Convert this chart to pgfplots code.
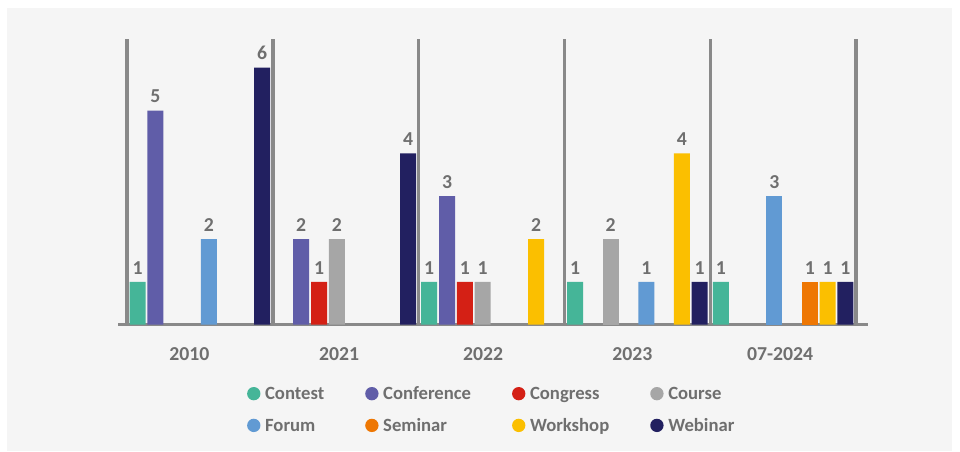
\documentclass[border=0pt]{standalone}
\usepackage{fontspec}
\setmainfont{Carlito}
\usepackage{pgfplots}
\pgfplotsset{compat=1.18}
\definecolor{bg}{HTML}{F5F5F5}
\definecolor{linegray}{HTML}{898989}
\definecolor{txtgray}{HTML}{6F6F6F}
\definecolor{cContest}{HTML}{45B598}
\definecolor{cConference}{HTML}{605DA8}
\definecolor{cCongress}{HTML}{D42015}
\definecolor{cCourse}{HTML}{A6A6A6}
\definecolor{cForum}{HTML}{619AD3}
\definecolor{cSeminar}{HTML}{EE7703}
\definecolor{cWorkshop}{HTML}{FBBF00}
\definecolor{cWebinar}{HTML}{222060}
\begin{document}
\begin{tikzpicture}
\fill[white] (0pt,0pt) rectangle (720pt,338.25pt);
\useasboundingbox (0pt,0pt) rectangle (720pt,338.25pt);
\fill[bg] (5.25pt,0pt) rectangle (714pt,332.25pt);
\begin{axis}[
  at={(88.5pt,94.7pt)}, anchor=south west,
  scale only axis, width=562.5pt, height=214.3pt,
  xmin=-0.562, xmax=4.582, ymin=0, ymax=6.67,
  enlargelimits=false, clip=false,
  ybar, bar width=12pt,
  axis y line=none,
  axis x line*=bottom,
  x axis line style={-, draw=linegray, line width=2.25pt},
  xtick={-0.072,0.955,1.942,2.966,3.979},
  xticklabels={2010,2021,2022,2023,07-2024},
  minor xtick={-0.5,0.5,1.5,2.5,3.5,4.5},
  xminorgrids=true,
  minor grid style={draw=linegray, line width=2.5pt},
  major tick length=0pt, minor tick length=0pt,
  xticklabel style={anchor=north, inner sep=0pt, yshift=-17pt, text=txtgray, font=\bfseries\fontsize{14.8pt}{17pt}\selectfont},
  /pgf/number format/assume math mode=true,
  nodes near coords,
  every node near coord/.append style={font=\bfseries\fontsize{14.8pt}{17pt}\selectfont, text=txtgray, inner sep=0pt, anchor=south, yshift=5.5pt},
  every axis plot post/.append style={legend image code/.code={\fill[##1] (0pt,0.8pt) circle (5pt);}},
  legend columns=4,
  legend cell align=left,
  legend style={draw=none, fill=none, at={(0.497,-0.3005)}, anchor=center,
    font=\bfseries\fontsize{14pt}{16pt}\selectfont, text=txtgray,
    nodes={inner sep=0pt, text height=10pt, text depth=3pt},
    /tikz/every odd column/.append style={column sep=3.5pt},
    /tikz/every even column/.append style={column sep=30.75pt},
    row sep=10.8pt},
]
\addplot[fill=cContest, draw=none, bar shift=-46.725pt] coordinates {(0,1) (2,1) (3,1) (4,1)};
\addlegendentry{Contest}
\addplot[fill=cConference, draw=none, bar shift=-33.375pt] coordinates {(0,5) (1,2) (2,3)};
\addlegendentry{Conference}
\addplot[fill=cCongress, draw=none, bar shift=-20.025pt] coordinates {(1,1) (2,1)};
\addlegendentry{Congress}
\addplot[fill=cCourse, draw=none, bar shift=-6.675pt] coordinates {(1,2) (2,1)};
\addlegendentry{Course}
\addplot[fill=cForum, draw=none, bar shift=6.675pt] coordinates {(0,2) (3,1)};
\addlegendentry{Forum}
\addplot[fill=cSeminar, draw=none, bar shift=20.025pt] coordinates {(4,1)};
\addlegendentry{Seminar}
\addplot[fill=cWorkshop, draw=none, bar shift=33.375pt] coordinates {(2,2) (3,4) (4,1)};
\addlegendentry{Workshop}
\addplot[fill=cWebinar, draw=none, bar shift=46.725pt] coordinates {(0,6) (1,4) (3,1) (4,1)};
\addlegendentry{Webinar}
% bars drawn in other slots in the reference
\addplot[fill=cCourse, draw=none, bar shift=-20.025pt, forget plot] coordinates {(3,2)};
\addplot[fill=cForum, draw=none, bar shift=-6.675pt, forget plot] coordinates {(4,3)};
\end{axis}
\end{tikzpicture}
\end{document}
